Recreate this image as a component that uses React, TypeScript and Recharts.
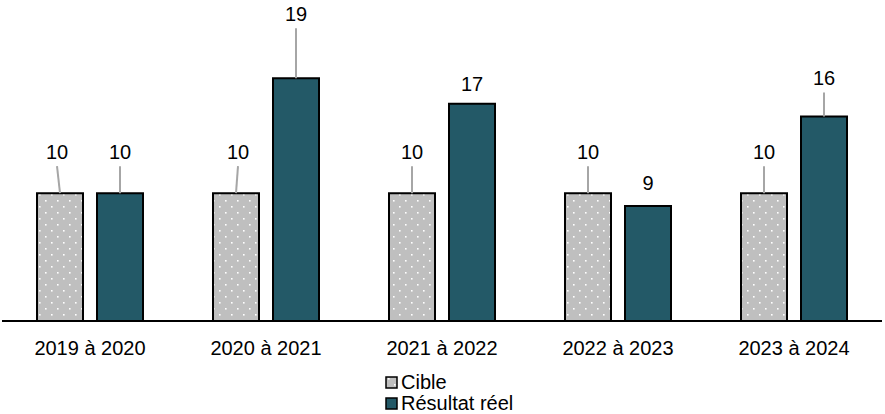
import React from "react";
import { Bar, BarChart, LabelList, Legend, XAxis, YAxis } from "recharts";

const periods = ["2019 à 2020", "2020 à 2021", "2021 à 2022", "2022 à 2023", "2023 à 2024"];
const cible = [10, 10, 10, 10, 10];
const resultat = [10, 19, 17, 9, 16];

// how far each label sits above its bar (px) and sideways nudge
const cibleLift = [41, 41, 41, 41, 41];
const cibleShift = [-3, 2, 0, 0, 0];
const resultatLift = [41, 64, 20, 23, 38];
const resultatShift = [0, 0, 0, 0, 0];

const data = periods.map((p, i) => ({ period: p, cible: cible[i], resultat: resultat[i] }));

const TEAL = "#235967";
const GREY = "#bfbfbf";
const FONT = "'Liberation Sans', Arial, sans-serif";

function makeLabel(lifts: number[], shifts: number[]) {
  return (props: any) => {
    const { x, y, width, value, index } = props;
    const cx = Number(x) + Number(width) / 2;
    const lx = cx + shifts[index];
    const ly = Number(y) - lifts[index];
    return (
      <g>
        {lifts[index] > 30 && (
          <line x1={lx} y1={ly + 14} x2={cx} y2={Number(y)} stroke="#a6a6a6" strokeWidth={2} />
        )}
        <text x={lx} y={ly} textAnchor="middle" dominantBaseline="central" fontSize={20} fill="#000" fontFamily={FONT}>
          {value}
        </text>
      </g>
    );
  };
}

function LegendBox() {
  const items = [
    { name: "Cible", fill: "url(#dots)" },
    { name: "Résultat réel", fill: TEAL },
  ];
  return (
    <div style={{ fontFamily: FONT, fontSize: 20, lineHeight: "21px" }}>
      {items.map((it) => (
        <div key={it.name} style={{ display: "flex", alignItems: "center" }}>
          <svg width={15} height={14} style={{ marginRight: 1 }}>
            <rect x={1} y={1} width={11} height={11} fill={it.fill} stroke="#000" strokeWidth={1.5} />
          </svg>
          <span>{it.name}</span>
        </div>
      ))}
    </div>
  );
}

export default function App() {
  return (
    <div style={{ position: "absolute", left: 0, top: 0, background: "#fff" }}>
      <svg width={0} height={0} style={{ position: "absolute" }}>
        <defs>
          <pattern id="dots" width={12} height={12} patternUnits="userSpaceOnUse">
            <rect width={12} height={12} fill={GREY} />
            <rect x={3} y={2} width={1.6} height={1.6} fill="#fff" />
            <rect x={9} y={8} width={1.6} height={1.6} fill="#fff" />
          </pattern>
        </defs>
      </svg>
      <BarChart
        width={885}
        height={414}
        data={data}
        margin={{ top: 4, right: 3, left: 2, bottom: 18 }}
        barCategoryGap={35}
        barGap={14}
      >
        <XAxis
          dataKey="period"
          axisLine={{ stroke: "#000", strokeWidth: 2 }}
          tickLine={false}
          tickMargin={14}
          height={33}
          interval={0}
          tick={{ fontSize: 20, fill: "#000", fontFamily: FONT }}
        />
        <YAxis hide domain={[0, 24.8]} />
        <Legend
          verticalAlign="bottom"
          content={() => <LegendBox />}
          wrapperStyle={{ left: 385, top: 372, width: 200, height: 42 }}
        />
        <Bar dataKey="cible" name="Cible" fill="url(#dots)" stroke="#000" strokeWidth={2} barSize={46} isAnimationActive={false}>
          <LabelList dataKey="cible" content={makeLabel(cibleLift, cibleShift)} />
        </Bar>
        <Bar dataKey="resultat" name="Résultat réel" fill={TEAL} stroke="#000" strokeWidth={2} barSize={46} isAnimationActive={false}>
          <LabelList dataKey="resultat" content={makeLabel(resultatLift, resultatShift)} />
        </Bar>
      </BarChart>
    </div>
  );
}
